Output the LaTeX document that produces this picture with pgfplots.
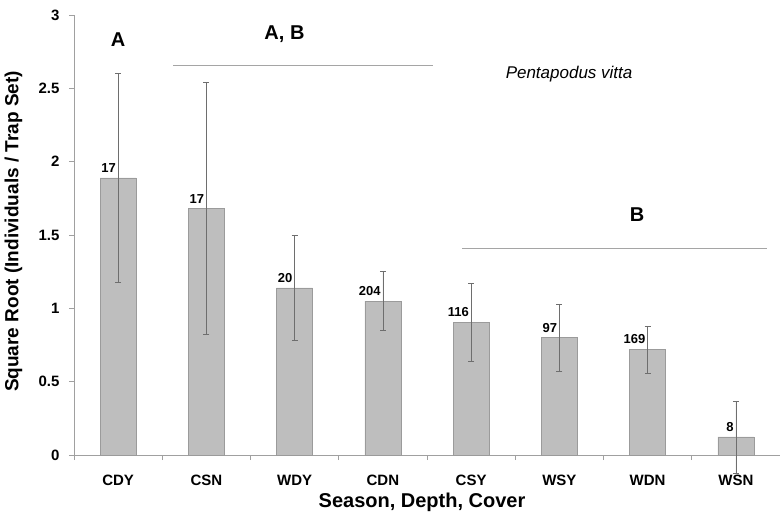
\documentclass[border=0pt]{standalone}
\usepackage{fontspec}
\setmainfont{Liberation Sans}
\usepackage{pgfplots}
\usepackage{pgfplotstable}
\usetikzlibrary{calc}
\pgfplotsset{compat=1.18}
\definecolor{barfill}{RGB}{190,190,190}
\definecolor{bardraw}{RGB}{155,155,155}
\definecolor{errc}{RGB}{110,110,110}
\definecolor{axc}{RGB}{160,160,160}
\definecolor{grpline}{RGB}{165,165,165}
\pgfplotstableread{
x y e n
0 1.89 0.71 17
1 1.68 0.86 17
2 1.14 0.355 20
3 1.05 0.20 204
4 0.905 0.265 116
5 0.80 0.23 97
6 0.72 0.16 169
7 0.123 0.245 8
}\datatab
\begin{document}
\begin{tikzpicture}[x=1pt,y=1pt]
\begin{axis}[
  width=706pt, height=440pt, scale only axis,
  xmin=-0.5, xmax=7.5, ymin=0, ymax=3,
  clip=false,
  axis x line*=bottom, axis y line*=left,
  axis line style={draw=axc, line width=0.8pt},
  tick align=outside,
  major tick length=5pt, minor tick length=5pt,
  xtick={0,...,7},
  xticklabels={CDY,CSN,WDY,CDN,CSY,WSY,WDN,WSN},
  minor xtick={-0.5,0.5,...,7.5},
  every major x tick/.append style={draw=none},
  every minor x tick/.append style={draw=axc, line width=0.8pt},
  every major y tick/.append style={draw=axc, line width=0.8pt},
  ytick={0,0.5,1,1.5,2,2.5,3},
  yticklabels={0,0.5,1,1.5,2,2.5,3},
  /pgf/number format/assume math mode=true,
  ticklabel style={font=\bfseries\fontsize{15}{17}\selectfont},
  xticklabel style={anchor=base, yshift=-25pt},
  yticklabel style={anchor=east, xshift=-6pt},
  ylabel={Square Root (Individuals / Trap Set)},
  every axis y label/.style={at={(axis description cs:-0.0857,0.508)}, rotate=90, anchor=center, font=\bfseries\fontsize{19}{22}\selectfont},
  xlabel={Season, Depth, Cover},
  every axis x label/.style={at={(axis description cs:0.493,-0.1182)}, anchor=base, font=\bfseries\fontsize{20}{24}\selectfont},
]
\addplot[ybar, bar width=36pt, fill=barfill, draw=bardraw, line width=0.6pt,
  point meta=explicit symbolic,
  nodes near coords,
  nodes near coords style={anchor=south east, inner sep=1pt, xshift=-1pt, yshift=4pt, font=\bfseries\fontsize{13}{15}\selectfont, text=black},
  error bars/.cd, y dir=both, y explicit,
  error bar style={draw=errc, line width=0.6pt},
  error mark options={rotate=90, mark size=3pt, draw=errc, line width=0.6pt}]
  table[x=x, y=y, y error=e, meta=n] {\datatab};
\draw[grpline, line width=0.9pt] (axis cs:0.622,2.659) -- (axis cs:3.568,2.659);
\draw[grpline, line width=0.9pt] (axis cs:3.897,1.405) -- (axis cs:7.353,1.405);
\node[anchor=base, font=\bfseries\fontsize{20}{24}\selectfont] at (axis cs:0,2.782) {A};
\node[anchor=base, font=\bfseries\fontsize{20}{24}\selectfont] at (axis cs:1.885,2.83) {A, B};
\node[anchor=base, font=\bfseries\fontsize{20}{24}\selectfont] at (axis cs:5.88,1.589) {B};
\node[anchor=base, font=\itshape\fontsize{17}{20}\selectfont] at (axis cs:5.11,2.57) {Pentapodus vitta};
\coordinate (bl) at (rel axis cs:0,0);
\end{axis}
\pgfresetboundingbox
\path[use as bounding box] ($(bl)+(-74,-68)$) rectangle ($(bl)+(706,455)$);
\end{tikzpicture}
\end{document}
